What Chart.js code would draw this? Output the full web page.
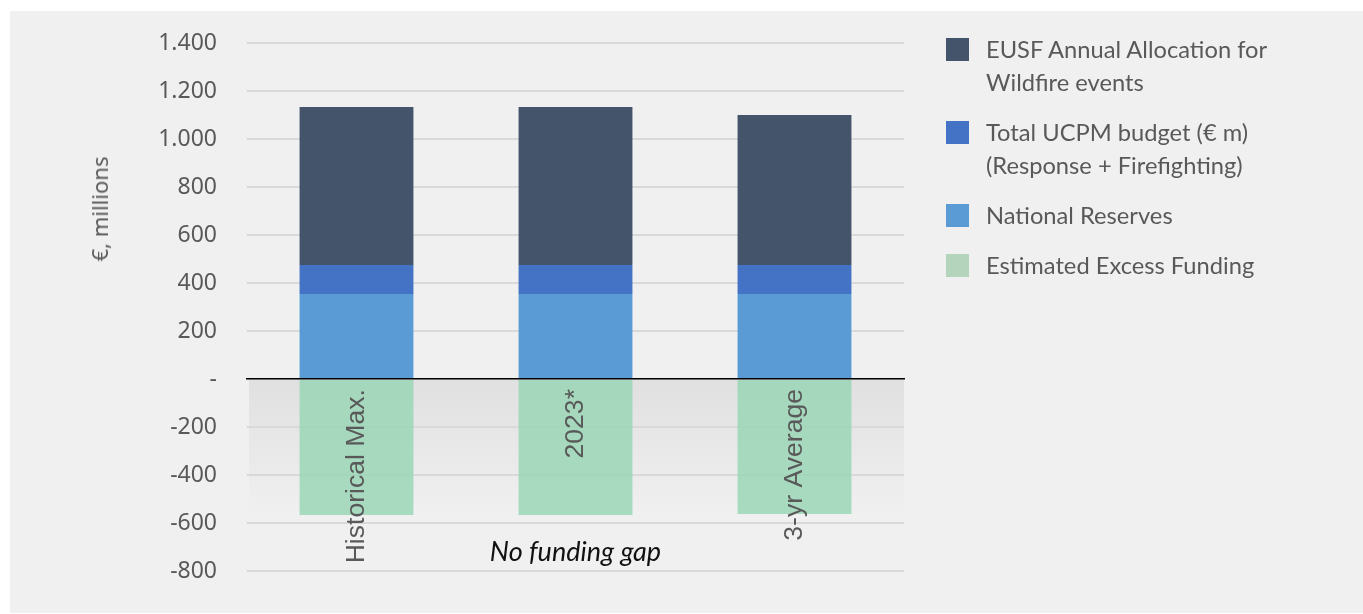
<!DOCTYPE html>
<html>
<head>
<meta charset="utf-8">
<script src="https://cdn.jsdelivr.net/npm/chart.js@4.4.0/dist/chart.umd.min.js"></script>
<style>
  html, body { margin: 0; padding: 0; background: #fff; }
  #panel {
    position: absolute; left: 10px; top: 11px;
    width: 1353px; height: 602px; background: #f0f0f0;
  }
  #chart { position: absolute; left: 0; top: 0; }
  #ytitle {
    position: absolute; left: 89px; top: 198px;
    transform: translate(-50%, -50%) rotate(-90deg);
    font: 22px "Noto Sans", sans-serif; color: #595959; white-space: nowrap;
  }
  #legend { position: absolute; left: 936px; top: 22px; }
  .item { display: flex; align-items: flex-start; margin-bottom: 17px; }
  .box { width: 23px; height: 23px; margin-top: 5px; margin-right: 17px; flex: none; }
  .txt { font: 23.7px Lato, sans-serif; color: #595959; line-height: 33px; white-space: pre-line; }
</style>
</head>
<body>
<div id="panel">
  <canvas id="chart" width="1353" height="602"></canvas>
  <div id="ytitle">€, millions</div>
  <div id="legend"></div>
</div>
<script>
/* DATA (€ millions) */
const categories = ["Historical Max.", "2023*", "3-yr Average"];
const nationalReserves = [354, 354, 354];
const ucpmBudget = [121, 121, 121];
const eusfAllocation = [658, 658, 625];
const excessFunding = [-567, -567, -562];

const seriesNames = {
  eusf: "EUSF Annual Allocation for\nWildfire events",
  ucpm: "Total UCPM budget (€ m)\n(Response + Firefighting)",
  reserves: "National Reserves",
  excess: "Estimated Excess Funding"
};
const noteText = "No funding gap";
const noteValue = -722;

const colors = {
  eusf: "#44546a",
  ucpm: "#4472c4",
  reserves: "#5b9bd5",
  excess: "rgba(149,212,179,0.8)",
  excessLegend: "#b4d4bb"
};

/* shaded band below zero + note text */
const belowZeroShade = {
  id: "belowZeroShade",
  beforeDraw(chart) {
    const { ctx, chartArea, scales } = chart;
    const y0 = scales.y.getPixelForValue(0);
    const y1 = scales.y.getPixelForValue(-560);
    const g = ctx.createLinearGradient(0, y0, 0, y1);
    g.addColorStop(0, "#e0e0e0");
    g.addColorStop(1, "#f0f0f0");
    ctx.save();
    ctx.fillStyle = g;
    ctx.fillRect(chartArea.left + 2, y0, chartArea.right - chartArea.left - 2, y1 - y0);
    ctx.restore();
  },
  afterDraw(chart) {
    const { ctx, scales } = chart;
    ctx.save();
    ctx.font = "italic 27px Lato, sans-serif";
    ctx.fillStyle = "#111";
    ctx.textAlign = "center";
    ctx.textBaseline = "middle";
    ctx.fillText(noteText, scales.x.getPixelForValue(1), scales.y.getPixelForValue(noteValue));
    ctx.restore();
  }
};

const chart = new Chart(document.getElementById("chart"), {
  type: "bar",
  data: {
    labels: categories,
    datasets: [
      { label: seriesNames.reserves, data: nationalReserves, backgroundColor: colors.reserves },
      { label: seriesNames.ucpm, data: ucpmBudget, backgroundColor: colors.ucpm },
      { label: seriesNames.eusf, data: eusfAllocation, backgroundColor: colors.eusf },
      { label: seriesNames.excess, data: excessFunding, backgroundColor: colors.excess }
    ]
  },
  options: {
    responsive: false,
    animation: false,
    layout: { padding: { left: 0, right: 459, top: 32, bottom: 42 } },
    datasets: { bar: { categoryPercentage: 1, barPercentage: 0.52 } },
    plugins: { legend: { display: false }, tooltip: { enabled: false } },
    scales: {
      x: {
        stacked: true,
        position: { y: 0 },
        grid: { display: false, drawTicks: false },
        border: { display: true, color: "#000", width: 1.5, z: 1 },
        ticks: {
          z: 1,
          minRotation: 90, maxRotation: 90, padding: 10,
          color: "#595959", font: { family: "Liberation Sans", size: 26.6 }
        }
      },
      y: {
        stacked: true,
        min: -800, max: 1400,
        afterFit(scale) {
          scale.width = 237;
          scale.paddingTop = 0;
          scale.paddingBottom = 0;
        },
        grid: { color: "#d9d9d9", lineWidth: 2, drawTicks: false },
        border: { display: false },
        ticks: {
          stepSize: 200, padding: 30,
          color: "#595959", font: { family: "Noto Sans", size: 23 },
          callback: v => v === 0 ? "-" : String(v).replace(/\B(?=(\d{3})+(?!\d))/g, ".")
        }
      }
    }
  },
  plugins: [belowZeroShade]
});

/* HTML legend (top of stack first) */
const legendItems = [
  [seriesNames.eusf, colors.eusf],
  [seriesNames.ucpm, colors.ucpm],
  [seriesNames.reserves, colors.reserves],
  [seriesNames.excess, colors.excessLegend]
];
const legend = document.getElementById("legend");
legendItems.forEach(([name, col]) => {
  const row = document.createElement("div");
  row.className = "item";
  row.innerHTML = `<div class="box" style="background:${col}"></div><div class="txt"></div>`;
  row.querySelector(".txt").textContent = name;
  legend.appendChild(row);
});
</script>
</body>
</html>
